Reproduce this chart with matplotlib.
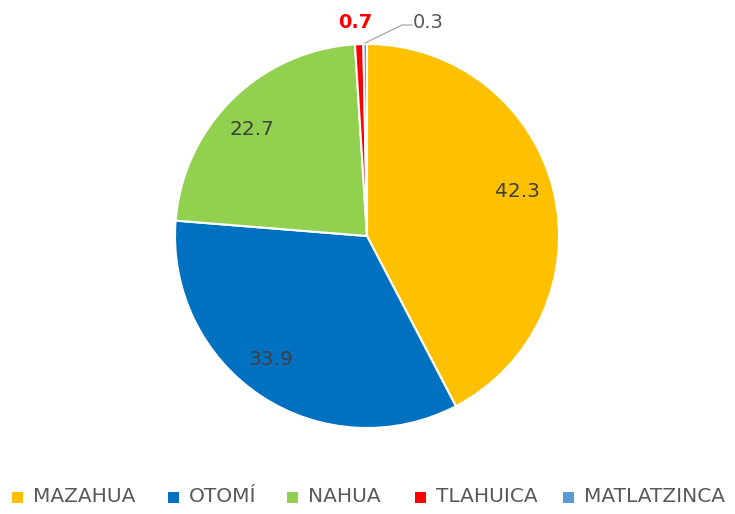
import matplotlib
matplotlib.use("Agg")
import matplotlib.pyplot as plt
import numpy as np
from matplotlib.patches import Rectangle

categories = ["MAZAHUA", "OTOMÍ", "NAHUA", "TLAHUICA", "MATLATZINCA"]
values = [42.3, 33.9, 22.7, 0.7, 0.3]
colors = ["#FFC000", "#0070C0", "#92D050", "#FF0000", "#5B9BD5"]

W, H = 735, 514
fig = plt.figure(figsize=(W / 100, H / 100), dpi=100)
ax = fig.add_axes([0, 0, 1, 1])

cx, cy, r = 367, H - 236, 192
wedges, _ = ax.pie(values, colors=colors, startangle=90, counterclock=False,
                   center=(cx, cy), radius=r, frame=True,
                   wedgeprops=dict(edgecolor="white", linewidth=1.5))
ax.set_xlim(0, W)
ax.set_ylim(0, H)
ax.set_aspect("equal")
ax.axis("off")

# Inside labels for the large slices (radial distance, angular nudge in degrees)
label_dist = 0.815
nudge = [2.7, -4.3, 2.8]
for w, v, dn in zip(wedges[:3], values[:3], nudge):
    ang = np.deg2rad((w.theta1 + w.theta2) / 2 + dn)
    ax.text(cx + label_dist * r * np.cos(ang), cy + label_dist * r * np.sin(ang),
            f"{v}", ha="center", va="center", fontsize=14.5, color="#404040")

# Small slices labelled outside the pie
ax.text(355, H - 22, f"{values[3]}", ha="center", va="center", fontsize=14,
        color="#FF0000", fontweight="bold")
ax.plot([365, 402, 412], [H - 43, H - 25, H - 25], color="#A6A6A6", lw=0.9)
ax.text(413, H - 23, f"{values[4]}", ha="left", va="center", fontsize=14,
        color="#595959")

# Legend row
leg_x = [12, 168, 287, 415, 563]
ly = H - 497
for x, c, name in zip(leg_x, colors, categories):
    ax.add_patch(Rectangle((x, ly - 5.5), 11, 11, color=c, lw=0))
    ax.text(x + 21, ly, name, ha="left", va="center", fontsize=14.5,
            color="#595959")

fig.savefig("out.png", dpi=100)
